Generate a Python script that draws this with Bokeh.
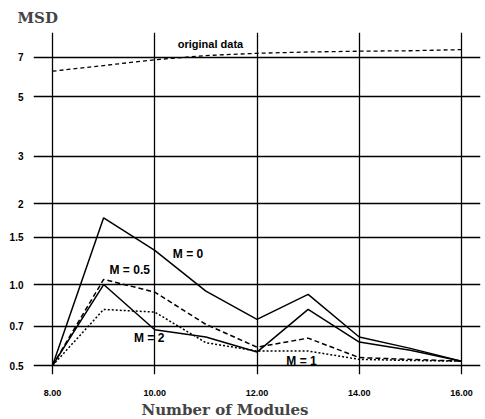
from bokeh.plotting import figure
from bokeh.models import Range1d, FixedTicker, Label, Title
from bokeh.embed import file_html
from bokeh.resources import INLINE

modules = [8, 9, 10, 11, 12, 13, 14, 15, 16]
original = [6.21, 6.52, 6.85, 7.10, 7.24, 7.32, 7.37, 7.40, 7.47]
m0 = [0.50, 1.77, 1.34, 0.945, 0.742, 0.919, 0.638, 0.579, 0.519]
m05 = [0.50, 1.045, 0.937, 0.711, 0.585, 0.632, 0.535, 0.527, 0.519]
m1 = [0.50, 0.808, 0.79, 0.608, 0.566, 0.566, 0.527, 0.522, 0.519]
m2 = [0.50, 1.0, 0.679, 0.638, 0.561, 0.808, 0.611, 0.57, 0.519]

x_ticks = [8, 10, 12, 14, 16]
x_tick_labels = ["8.00", "10.00", "12.00", "14.00", "16.00"]
y_ticks = [0.5, 0.7, 1.0, 1.5, 2, 3, 5, 7]
y_tick_labels = ["0.5", "0.7", "1.0", "1.5", "2", "3", "5", "7"]

series_labels = [
    ("original data", 11.09, 7.87, "11px"),
    ("M = 0", 10.65, 1.30, "12px"),
    ("M = 0.5", 9.51, 1.128, "12px"),
    ("M = 2", 9.89, 0.635, "12px"),
    ("M = 1", 12.87, 0.518, "12px"),
]
y_title = "MSD"
x_title = "Number of Modules"

p = figure(width=485, height=419, output_backend="svg", toolbar_location=None,
           y_axis_type="log", x_range=Range1d(7.628, 16.372),
           y_range=Range1d(0.463, 8.65),
           min_border_left=33, min_border_right=5, min_border_top=32,
           min_border_bottom=45)
p.outline_line_color = None
p.background_fill_color = "white"
p.border_fill_color = "white"

p.title.text = y_title
p.title.align = "left"
p.title.offset = -16
p.title.text_font = "DejaVu Serif"
p.title.text_font_style = "bold"
p.title.text_font_size = "15px"
p.title.standoff = 11

for ax in (p.xaxis[0], p.yaxis[0]):
    ax.axis_line_color = None
    ax.major_tick_line_color = None
    ax.minor_tick_line_color = None
    ax.major_label_text_font = "Liberation Sans"
    ax.major_label_text_font_style = "bold"
    ax.major_label_text_color = "black"

p.xaxis.ticker = FixedTicker(ticks=x_ticks)
p.xaxis.major_label_overrides = dict(zip(x_ticks, x_tick_labels))
p.xaxis.major_label_text_font_size = "9px"
p.xaxis.major_label_standoff = 9

p.yaxis.ticker = FixedTicker(ticks=y_ticks, minor_ticks=[])
p.yaxis.major_label_overrides = dict(zip(y_ticks, y_tick_labels))
p.yaxis.major_label_text_font_size = "10px"
p.yaxis.major_label_standoff = 4

p.xgrid.ticker = FixedTicker(ticks=x_ticks)
p.ygrid.ticker = FixedTicker(ticks=y_ticks, minor_ticks=[])
for g in (p.xgrid[0], p.ygrid[0]):
    g.grid_line_color = "black"
    g.grid_line_width = 1.3
    g.grid_line_alpha = 1.0

p.add_layout(Title(text=x_title, align="left", offset=108,
                   text_font="DejaVu Serif", text_font_style="bold",
                   text_font_size="15px", standoff=0), "below")

p.line(modules, original, line_color="black", line_width=1.3, line_dash="4 3")
p.line(modules, m0, line_color="black", line_width=1.5)
p.line(modules, m2, line_color="black", line_width=1.5)
p.line(modules, m05, line_color="black", line_width=1.5, line_dash="5 3")
p.line(modules, m1, line_color="black", line_width=1.5, line_dash="2 2")

for txt, lx, ly, fs in series_labels:
    p.add_layout(Label(x=lx, y=ly, text=txt, text_align="center",
                       text_baseline="middle", text_font="Liberation Sans",
                       text_font_style="bold", text_font_size=fs,
                       text_color="black"))

open("out.html", "w").write(file_html(p, INLINE))
